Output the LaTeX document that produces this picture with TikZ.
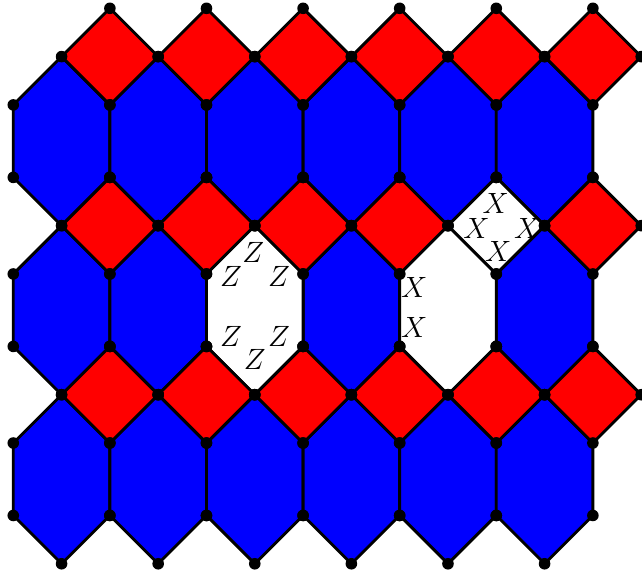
\documentclass[tikz,border=0pt]{standalone}
\usepackage{xcolor}
\usepackage{tikz}
\definecolor{hexblue}{RGB}{0,0,255}
\definecolor{sqred}{RGB}{255,0,0}

\begin{document}
\begin{tikzpicture}[line width=1.7pt, line join=round]
	\useasboundingbox (-0.275,0.172) rectangle (13.017,-11.75);
	% hexagons
	\foreach \t in {1,4.5,8} {
		\foreach \c in {1,3,...,11} {
			\draw[fill=hexblue] (\c,-\t) -- (\c+1,-\t-1) -- (\c+1,-\t-2.5) -- (\c,-\t-3.5) -- (\c-1,-\t-2.5) -- (\c-1,-\t-1) -- cycle;
		}
	}
	\draw[fill=white] (5,-4.5) -- (6,-5.5) -- (6,-7) -- (5,-8) -- (4,-7) -- (4,-5.5) -- cycle;
	\draw[fill=white] (9,-4.5) -- (10,-5.5) -- (10,-7) -- (9,-8) -- (8,-7) -- (8,-5.5) -- cycle;
	% squares
	\foreach \t in {1,4.5,8} {
		\foreach \c in {2,4,...,12} {
			\draw[fill=sqred] (\c,-\t+1) -- (\c+1,-\t) -- (\c,-\t-1) -- (\c-1,-\t) -- cycle;
		}
	}
	\draw[fill=white] (10,-3.5) -- (11,-4.5) -- (10,-5.5) -- (9,-4.5) -- cycle;
	% vertices
	\foreach \t in {1,4.5,8} {
		\foreach \c in {1,3,...,11} {
			\foreach \p in {(\c,-\t),(\c+1,-\t-1),(\c+1,-\t-2.5),(\c,-\t-3.5),(\c-1,-\t-2.5),(\c-1,-\t-1)}
				\fill \p circle (0.12);
		}
		\foreach \c in {2,4,...,12} {
			\fill (\c,-\t+1) circle (0.12);
			\fill (\c+1,-\t) circle (0.12);
		}
	}
	% labels
	\foreach \n/\x/\y in {z1/4.97/5.05, z2/4.51/5.56, z3/5.5/5.56, z4/4.51/6.8, z5/5.5/6.8, z6/5.0/7.27}
		\node (\n) at (\x,-\y) {\LARGE $Z$};
	\foreach \n/\x/\y in {x1/9.99/4.04, x2/9.59/4.55, x3/10.64/4.55, x4/10.04/5.04, x5/8.3/5.79, x6/8.3/6.6}
		\node (\n) at (\x,-\y) {\LARGE $X$};
\end{tikzpicture}
\end{document}
